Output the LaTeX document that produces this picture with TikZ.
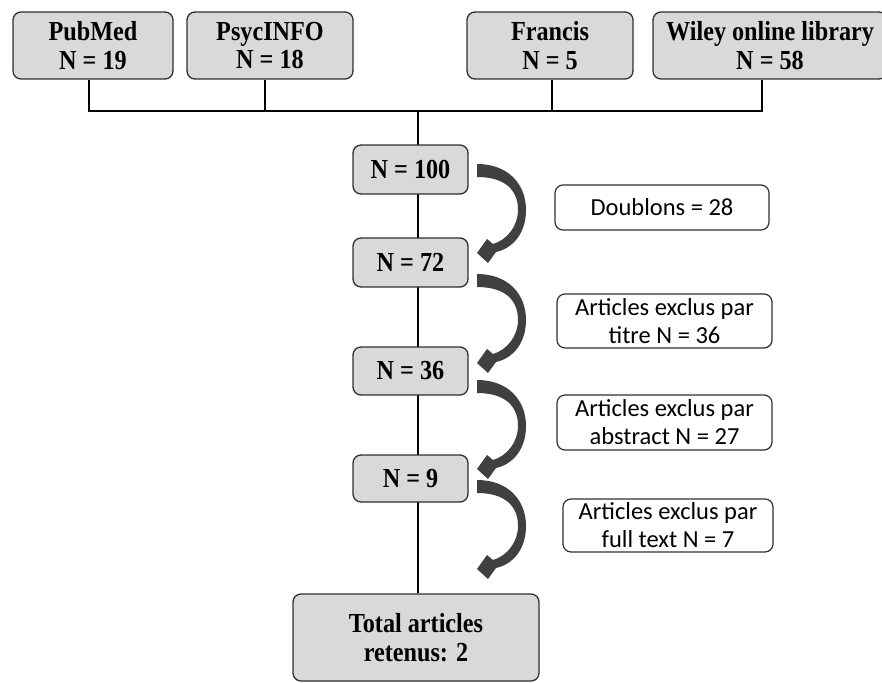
\documentclass[tikz,border=0pt]{standalone}
\usepackage{fontspec}
\newfontfamily\tnrfont[FakeStretch=0.88]{Liberation Serif}
\newfontfamily\calfont{Carlito}
\definecolor{boxgray}{HTML}{D9D9D9}
\definecolor{arrowgray}{HTML}{404040}
\definecolor{edgegray}{HTML}{303030}
\tikzset{
  gbox/.style={draw=edgegray, line width=1.3pt, fill=boxgray, rounded corners=8pt,
    inner sep=0pt, align=center, font=\tnrfont\bfseries\fontsize{27.5}{28.5}\selectfont},
  wbox/.style={draw=edgegray, line width=1.2pt, fill=white, rounded corners=8pt,
    inner sep=0pt, align=center, font=\calfont\fontsize{24.5}{28}\selectfont},
  conn/.style={draw=black, line width=1.3pt},
  bentarrow/.style={fill=arrowgray}
}
\newcommand\curvedarrow[2]{%
  \begin{scope}[shift={(#1,#2)}]
    \fill[bentarrow] (0,0) .. controls (31,0) and (49,20) .. (49,46)
      .. controls (49,68) and (37,84) .. (19,88) -- (11,99) -- (0,89) -- (10,75) -- (16,80)
      .. controls (30,76) and (41,62) .. (41,46)
      .. controls (41,26) and (28,13) .. (0,13) -- cycle;
  \end{scope}}
\begin{document}
\begin{tikzpicture}[x=1pt,y=-1pt]
  \fill[white] (0,0) rectangle (882,682);
  \clip (0,0) rectangle (882,682);
  \useasboundingbox (0,0) rectangle (882,682);

  % junction coordinates
  \coordinate (jL) at (89,111);
  \coordinate (jP) at (265,111);
  \coordinate (jC) at (418,111);
  \coordinate (jF) at (552,111);
  \coordinate (jR) at (762,111);

  % source boxes
  \node[gbox, minimum width=160pt, minimum height=67pt] (pub) at (93,45.5) {PubMed\\N = 19};
  \node[gbox, minimum width=166pt, minimum height=67pt] (psyc) at (270,45.5) {PsycINFO\\N = 18};
  \node[gbox, minimum width=166pt, minimum height=67pt] (fra) at (550,45.5) {Francis\\N = 5};
  \node[gbox, minimum width=234pt, minimum height=67pt] (wil) at (770,45.5) {Wiley online library\\N = 58};

  % total box
  \node[gbox, minimum width=246pt, minimum height=87pt] (tot) at (416,637.5) {Total articles\\retenus: 2};

  % connectors
  \draw[conn] (pub.south -| jL) -- (jL) -- (jR) -- (wil.south -| jR);
  \draw[conn] (psyc.south -| jP) -- (jP);
  \draw[conn] (fra.south -| jF) -- (jF);
  \draw[conn] (jC) -- (tot.north -| jC);

  % middle boxes
  \node[gbox, minimum width=115pt, minimum height=49pt] (n100) at (410.5,169.5) {N = 100};
  \node[gbox, minimum width=115pt, minimum height=49pt] (n72) at (410.5,262.5) {N = 72};
  \node[gbox, minimum width=115pt, minimum height=48pt] (n36) at (410.5,371) {N = 36};
  \node[gbox, minimum width=115pt, minimum height=47pt] (n9) at (410.5,478.5) {N = 9};

  % exclusion boxes
  \node[wbox, minimum width=214pt, minimum height=45pt] (dbl) at (662,207.5) {Doublons = 28};
  \node[wbox, minimum width=215pt, minimum height=54pt] (tit) at (664.5,321) {Articles exclus par\\titre N = 36};
  \node[wbox, minimum width=215pt, minimum height=55pt] (abs) at (664.5,422.5) {Articles exclus par\\abstract N = 27};
  \node[wbox, minimum width=210pt, minimum height=53pt] (ful) at (668,525.5) {Articles exclus par\\full text N = 7};

  % curved arrows
  \curvedarrow{477}{164}
  \curvedarrow{477}{274}
  \curvedarrow{477}{380}
  \curvedarrow{477}{480}
\end{tikzpicture}
\end{document}
